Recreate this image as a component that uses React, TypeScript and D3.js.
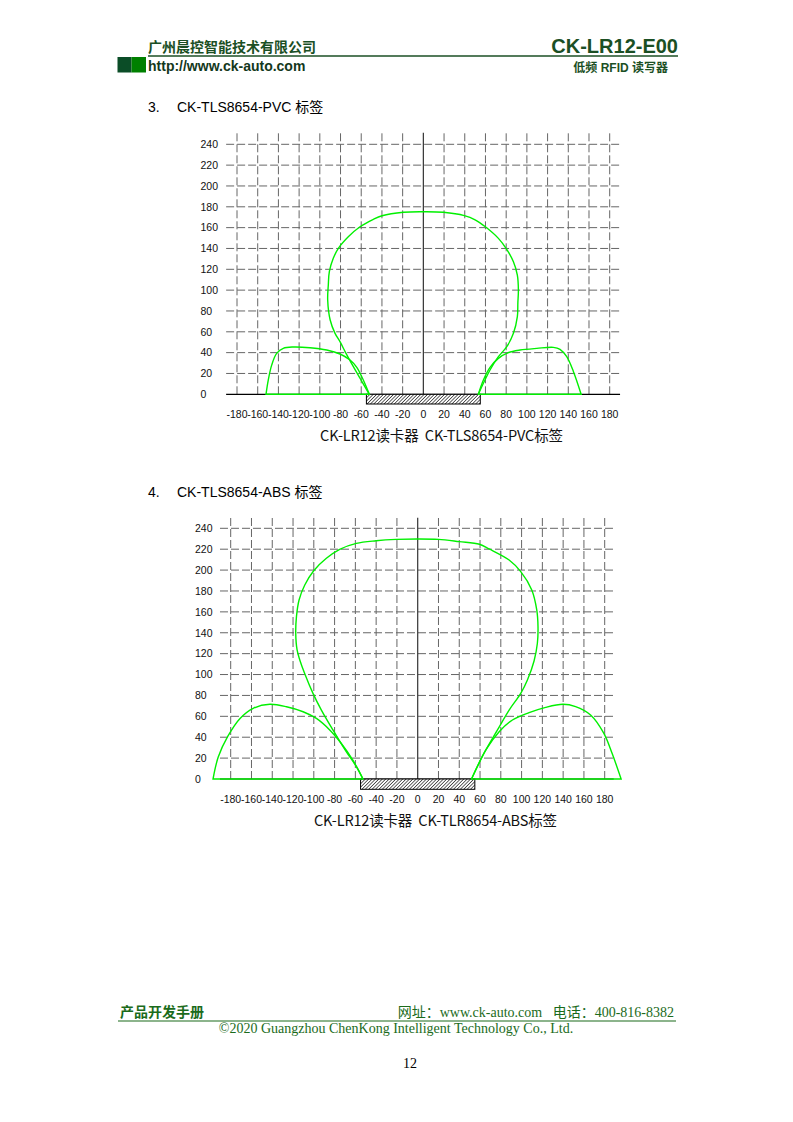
import React from "react";
import * as d3 from "d3";

type Pt = [number, number];

const xTicks = [-180, -160, -140, -120, -100, -80, -60, -40, -20, 0, 20, 40, 60, 80, 100, 120, 140, 160, 180];
const yTicks = [0, 20, 40, 60, 80, 100, 120, 140, 160, 180, 200, 220, 240];
const readerSpan: Pt = [-55, 55];

const pvcMainLobe: Pt[] = [
  [-52.2, 0], [-61.2, 15.4], [-67.6, 26.5], [-74.7, 39.3], [-80.5, 50.5], [-85.3, 58.5], [-90, 71.3],
  [-92.4, 90.5], [-91.8, 105], [-90.8, 117.7], [-87, 130.5], [-82.1, 140.1], [-72.5, 151.2], [-61.2, 160.8],
  [-48.3, 168], [-39.9, 171.4], [-19.3, 174.7], [0, 175.2], [19.3, 174.7], [39.6, 171.5], [50, 167.5], [59.9, 160.8],
  [72.5, 149.7], [79.9, 140.1], [87, 127.3], [90.8, 114.5], [91.8, 100], [91.3, 88], [90.8, 74.5], [87, 58.5],
  [80.6, 45.7], [72.5, 36.1], [64.4, 23.3], [53.1, 0],
];
const pvcLeftLobe: Pt[] = [
  [-152, 0], [-149.8, 13.7], [-146.5, 28], [-141.7, 39.3], [-135.3, 44.1], [-125.6, 45.4], [-109.5, 44.7],
  [-93.3, 42.5], [-80.5, 38.7], [-70.8, 32.9], [-64.3, 25.9], [-58, 13.7], [-52.2, 0],
];
const pvcRightLobe: Pt[] = [
  [53.1, 0], [58, 13.7], [64.4, 25.9], [72.5, 34.5], [82.1, 40], [93.4, 42.5], [109.6, 44.1], [125.6, 45.1],
  [132, 43.2], [138.5, 36.1], [145, 21.7], [152.4, 0],
];

const absMainLobe: Pt[] = [
  [-52.7, 0], [-59, 11.8], [-68.8, 26.2], [-81.6, 47], [-92.7, 66], [-100.8, 82], [-108.8, 101], [-113.5, 114],
  [-116.1, 123.5], [-117.4, 139.5], [-116.7, 155.4], [-114.2, 171.4], [-108.7, 185.7], [-100.1, 199.4],
  [-87.9, 211.3], [-75.1, 219.9], [-59.1, 225.6], [-40, 228.1], [-20.7, 229.4], [0, 229.8], [20, 229.4],
  [40, 227.2], [59.5, 224.7], [68.8, 220.2], [88, 209.6], [99.2, 198.5], [109.8, 181], [114.6, 161.8],
  [115.8, 145.9], [115.2, 130], [112, 113], [105.6, 94.8], [99.2, 82], [88, 66], [76.8, 47], [64, 24.9], [51.8, 0],
];
const absLeftLobe: Pt[] = [
  [-197, 0], [-192, 21], [-183, 40.5], [-171, 58], [-158.3, 67.7], [-142.3, 71.5], [-126.3, 69.2],
  [-110.3, 64.4], [-97.5, 58], [-84.7, 47], [-73.5, 34], [-62.4, 18], [-52.7, 0],
];
const absRightLobe: Pt[] = [
  [51.8, 0], [65.6, 27.8], [78.4, 45.3], [91.2, 56.5], [107.2, 63.5], [123.2, 68.6], [139.8, 71.5],
  [152, 69.3], [166.4, 61.3], [179.2, 43.7], [187.1, 24.6], [195.8, 0],
];

const GREEN_DARK = "#1b4f24";
const LATIN = "'Liberation Sans', Arial, 'Noto Sans CJK SC', sans-serif";
const SERIF = "'Liberation Serif', 'Times New Roman', 'Noto Sans CJK SC', serif";

interface ChartProps {
  id: string;
  xPx: Pt;
  yPx: Pt;
  gridX: Pt;
  gridTop: number;
  yLabelX: number;
  xLabelY: number;
  main: Pt[];
  left: Pt[];
  right: Pt[];
  title: string;
  titleX: Pt;
  titleY: number;
  readerH: number;
}

function Chart(p: ChartProps) {
  const x = d3.scaleLinear().domain([-180, 180]).range(p.xPx);
  const y = d3.scaleLinear().domain([0, 240]).range(p.yPx);
  const line = d3
    .line<Pt>()
    .x((d) => x(d[0]))
    .y((d) => y(d[1]))
    .curve(d3.curveCatmullRom.alpha(0.5));
  const green = "#00f000";
  return (
    <g>
      {yTicks
        .filter((t) => t !== 0)
        .map((t) => (
          <line key={"h" + t} x1={x(p.gridX[0])} x2={x(p.gridX[1])} y1={y(t)} y2={y(t)} stroke="#666" strokeWidth={1} strokeDasharray="8 3" />
        ))}
      {xTicks
        .filter((t) => t !== 0)
        .map((t) => (
          <line key={"v" + t} x1={x(t)} x2={x(t)} y1={y(0)} y2={y(p.gridTop)} stroke="#666" strokeWidth={1} strokeDasharray="8 3" />
        ))}
      <line x1={x(0)} x2={x(0)} y1={y(0)} y2={y(p.gridTop)} stroke="#333" strokeWidth={1.2} />
      <line x1={x(p.gridX[0])} x2={x(p.gridX[1])} y1={y(0)} y2={y(0)} stroke="#000" strokeWidth={1.2} />
      <rect
        x={x(readerSpan[0])}
        y={y(0)}
        width={x(readerSpan[1]) - x(readerSpan[0])}
        height={p.readerH}
        fill={`url(#hatch-${p.id})`}
        stroke="#000"
        strokeWidth={1}
      />
      <path d={line(p.left)! + "Z"} fill="none" stroke={green} strokeWidth={1.4} />
      <path d={line(p.right)! + "Z"} fill="none" stroke={green} strokeWidth={1.4} />
      <path d={line(p.main)!} fill="none" stroke={green} strokeWidth={1.4} />
      {yTicks.map((t) => (
        <text key={"yl" + t} x={p.yLabelX} y={y(t)} dy="0.36em" fontSize={10.5} fontFamily={LATIN} fill="#111">
          {t}
        </text>
      ))}
      {xTicks.map((t) => (
        <text key={"xl" + t} x={x(t)} y={p.xLabelY} textAnchor="middle" fontSize={10.5} fontFamily={LATIN} fill="#111">
          {t}
        </text>
      ))}
      <text
        x={p.titleX[0]}
        y={p.titleY}
        fontSize={14.5}
        fontFamily="'Noto Sans CJK SC', sans-serif"
        fill="#111"
        textLength={p.titleX[1] - p.titleX[0]}
      >
        {p.title}
      </text>
    </g>
  );
}

export default function App() {
  return (
    <svg width={793} height={1122} style={{ position: "absolute", left: 0, top: 0, background: "#fff" }}>
      <defs>
        {["c1", "c2"].map((id) => (
          <pattern key={id} id={`hatch-${id}`} patternUnits="userSpaceOnUse" width={2.4} height={2.4} patternTransform="rotate(45)">
            <rect width={2.4} height={2.4} fill="#fff" />
            <line x1={0} y1={0} x2={0} y2={2.4} stroke="#000" strokeWidth={1.2} />
          </pattern>
        ))}
      </defs>

      {/* Header */}
      <text x={148} y={52} fontSize={14} fontWeight="bold" fontFamily="'Noto Sans CJK SC', sans-serif" fill={GREEN_DARK}>
        广州晨控智能技术有限公司
      </text>
      <text x={678} y={53} fontSize={20} fontWeight="bold" fontFamily={LATIN} fill={GREEN_DARK} textAnchor="end">
        CK-LR12-E00
      </text>
      <line x1={148} x2={678} y1={56} y2={56} stroke={GREEN_DARK} strokeWidth={1.5} />
      <rect x={117.5} y={57} width={14} height={15.5} fill="#0b4d27" />
      <rect x={131.5} y={57} width={14.5} height={15.5} fill="#008000" />
      <text x={148} y={71} fontSize={14} fontWeight="bold" fontFamily={LATIN} fill="#14381c">
        http://www.ck-auto.com
      </text>
      <text x={668} y={72} fontSize={12} fontWeight="bold" fontFamily={LATIN} fill={GREEN_DARK} textAnchor="end">
        低频 RFID 读写器
      </text>

      {/* Section 3 */}
      <text x={148} y={112} fontSize={14} fontFamily={LATIN} fill="#000">3.</text>
      <text x={177} y={112} fontSize={14} fontFamily={LATIN} fill="#000">CK-TLS8654-PVC 标签</text>
      <Chart
        id="c1"
        xPx={[237, 609.7]}
        yPx={[394.3, 144.3]}
        gridX={[-190.5, 190]}
        gridTop={251}
        yLabelX={200.5}
        xLabelY={418}
        main={pvcMainLobe}
        left={pvcLeftLobe}
        right={pvcRightLobe}
        title={"CK-LR12读卡器\u00a0\u00a0CK-TLS8654-PVC标签"}
        titleX={[320, 563]}
        titleY={441}
        readerH={9.7}
      />

      {/* Section 4 */}
      <text x={148} y={497} fontSize={14} fontFamily={LATIN} fill="#000">4.</text>
      <text x={177} y={497} fontSize={14} fontFamily={LATIN} fill="#000">CK-TLS8654-ABS 标签</text>
      <Chart
        id="c2"
        xPx={[230.7, 604.7]}
        yPx={[779, 528.3]}
        gridX={[-190.3, 188.7]}
        gridTop={250}
        yLabelX={195}
        xLabelY={803}
        main={absMainLobe}
        left={absLeftLobe}
        right={absRightLobe}
        title={"CK-LR12读卡器\u00a0\u00a0CK-TLR8654-ABS标签"}
        titleX={[314, 557]}
        titleY={826}
        readerH={10.3}
      />

      {/* Footer */}
      <text x={120} y={1017} fontSize={14} fontWeight="bold" fontFamily="'Noto Sans CJK SC', sans-serif" fill="#1b6b1b">
        产品开发手册
      </text>
      <text x={674} y={1017} fontSize={14} fontFamily={SERIF} fill="#1b6b1b" textAnchor="end">
        网址：www.ck-auto.com{"\u00a0\u00a0\u00a0"}电话：400-816-8382
      </text>
      <line x1={118} x2={676} y1={1021} y2={1021} stroke="#1b6b1b" strokeWidth={1.2} />
      <text x={396} y={1033} fontSize={14} fontFamily={SERIF} fill="#1b6b1b" textAnchor="middle">
        ©2020 Guangzhou ChenKong Intelligent Technology Co., Ltd.
      </text>
      <text x={410} y={1068} fontSize={14} fontFamily={SERIF} fill="#000" textAnchor="middle">
        12
      </text>
    </svg>
  );
}
